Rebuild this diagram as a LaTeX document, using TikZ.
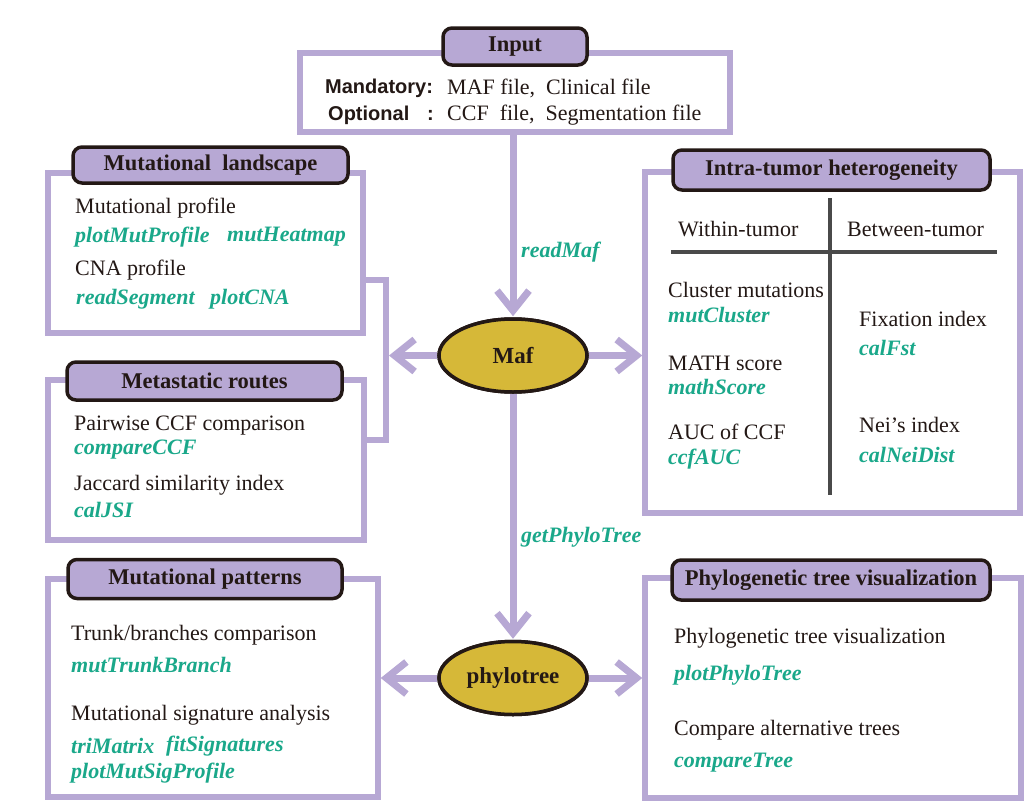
\documentclass[tikz,border=0pt]{standalone}
\usepackage{fontspec}
\setmainfont{Liberation Serif}
\newfontfamily\arialf{Liberation Sans}
\usetikzlibrary{shapes.geometric,arrows.meta}
\definecolor{lav}{HTML}{B7A8D4}
\definecolor{gold}{HTML}{D6B838}
\definecolor{fgreen}{HTML}{1AA88A}
\definecolor{ink}{HTML}{231815}
\definecolor{divg}{HTML}{4A4A4A}
\begin{document}
\begin{tikzpicture}[x=1pt,y=-1pt,
 frm/.style={draw=lav,line width=5.5pt,inner sep=0pt,rectangle},
 hdr/.style={draw=ink,line width=3.5pt,fill=lav,rounded corners=9pt,font=\fontsize{22.5}{26}\selectfont\bfseries,text=ink,inner sep=0pt},
 ell/.style={ellipse,draw=ink,line width=3.5pt,fill=gold,minimum width=148pt,minimum height=73pt,inner sep=0pt,font=\fontsize{23}{27}\selectfont\bfseries,text=ink},
 conn/.style={draw=lav,line width=7pt},
 arr/.style={conn,-{Straight Barb[length=20pt,width=32pt]}},
 txt/.style={anchor=west,inner sep=0pt,font=\fontsize{22}{26}\selectfont,text=ink},
 fn/.style={anchor=west,inner sep=0pt,font=\fontsize{22}{26}\selectfont\bfseries\itshape,text=fgreen},
 sfb/.style={anchor=west,inner sep=0pt,font=\fontsize{20}{24}\selectfont\arialf\bfseries,text=ink},
 divl/.style={draw=divg,line width=4pt},
]
\useasboundingbox (0,0) rectangle (1036,806);
\fill[white] (0,0) rectangle (1036,806);

% frames
\node[frm,minimum width=430pt,minimum height=79pt] (inp) at (515,92.5) {};
\node[frm,minimum width=315pt,minimum height=160pt] (land) at (205.5,253) {};
\node[frm,minimum width=316pt,minimum height=160pt] (meta) at (206,460) {};
\node[frm,minimum width=375pt,minimum height=341pt] (ith) at (832.5,342.5) {};
\node[frm,minimum width=330pt,minimum height=218pt] (pat) at (213,688) {};
\node[frm,minimum width=376pt,minimum height=220pt] (phyl) at (833,688) {};

% headers
\node[hdr,minimum width=144pt,minimum height=37pt] (hinp) at (515,46.5) {Input};
\node[hdr,minimum width=275pt,minimum height=36pt] (hland) at (210.5,165) {Mutational\ \ landscape};
\node[hdr,minimum width=275pt,minimum height=38pt] (hmeta) at (204.5,381) {Metastatic routes};
\node[hdr,minimum width=317pt,minimum height=40pt] (hith) at (831.5,170) {Intra-tumor heterogeneity};
\node[hdr,minimum width=274pt,minimum height=39pt] (hpat) at (205,579) {Mutational patterns};
\node[hdr,minimum width=318pt,minimum height=40pt] (hphyl) at (831,580) {Phylogenetic tree visualization};

% ellipses (positions)
\coordinate (cmaf) at (513,355.5);
\coordinate (cphy) at (513,678);
\coordinate (brk) at (389,355.5);
\coordinate (b1) at (386,280);
\coordinate (b2) at (386,440);

% connectors
\draw[draw=lav,line width=5.5pt] (b1 -| land.east) -- (b1) -- (b2) -- (b2 -| meta.east);
\node[ell] (maf) at (cmaf) {Maf};
\node[ell] (phy) at (cphy) {phylotree};
\draw[arr,shorten >=1pt] (maf |- inp.south) -- (maf.north);
\draw[arr] (maf.east) -- (maf.east -| ith.west);
\draw[arr] (maf.west) -- (brk);
\draw[arr,shorten >=1pt] (maf.south) -- (phy.north);
\draw[arr] (phy.west) -- (phy.west -| pat.east);
\draw[arr] (phy.east) -- (phy.east -| phyl.west);
\node[ell] at (cmaf) {Maf};
\node[ell] at (cphy) {phylotree};

\node[fn] (lrm) at (521,252) {readMaf};
\node[fn] (lgp) at (521,537) {getPhyloTree};

% input text
\node[sfb] (man) at (325,88) {Mandatory:};
\node[txt] (man2) at (447,88) {MAF file,\ \ Clinical file};
\node[sfb] (opt) at (328,115) {Optional};
\node[sfb] (col) at (427,115) {:};
\node[txt] (opt2) at (447,115) {CCF\ \ file,\ \ Segmentation file};

% landscape
\node[txt] (l1) at (75,208) {Mutational profile};
\node[fn] (l2) at (75,237) {plotMutProfile};
\node[fn] (l3) at (227,237) {mutHeatmap};
\node[txt] (l4) at (75,270) {CNA profile};
\node[fn] (l5) at (76,299) {readSegment};
\node[fn] (l6) at (210,299) {plotCNA};

% metastatic
\node[txt] (m1) at (74,426) {Pairwise CCF comparison};
\node[fn] (m2) at (74,450) {compareCCF};
\node[txt] (m3) at (74,485) {Jaccard similarity index};
\node[fn] (m4) at (74,510) {calJSI};

% ITH
\draw[divl] (830,198) -- (830,495);
\draw[divl] (671,252) -- (997,252);
\node[txt] (i0) at (678,229) {Within-tumor};
\node[txt] (i00) at (847,229) {Between-tumor};
\node[txt] (i1) at (668,290) {Cluster mutations};
\node[fn] (i2) at (668,315) {mutCluster};
\node[txt] (i3) at (668,363) {MATH score};
\node[fn] (i4) at (668,387) {mathScore};
\node[txt] (i5) at (668,432) {AUC of CCF};
\node[fn] (i6) at (668,459) {ccfAUC};
\node[txt] (i7) at (859,319) {Fixation index};
\node[fn] (i8) at (859,348) {calFst};
\node[txt] (i9) at (859,425) {Nei’s index};
\node[fn] (i10) at (859,455) {calNeiDist};

% patterns
\node[txt] (p1) at (71,635) {Trunk/branches comparison};
\node[fn] (p2) at (71,665) {mutTrunkBranch};
\node[txt] (p3) at (71,715) {Mutational signature analysis};
\node[fn] (p4) at (71,746) {triMatrix};
\node[fn] (p5) at (166,746) {fitSignatures};
\node[fn] (p6) at (71,773) {plotMutSigProfile};

% phylo
\node[txt] (f1) at (674,638) {Phylogenetic tree visualization};
\node[fn] (f2) at (674,675) {plotPhyloTree};
\node[txt] (f3) at (674,730) {Compare alternative trees};
\node[fn] (f4) at (674,763) {compareTree};
\end{tikzpicture}
\end{document}
